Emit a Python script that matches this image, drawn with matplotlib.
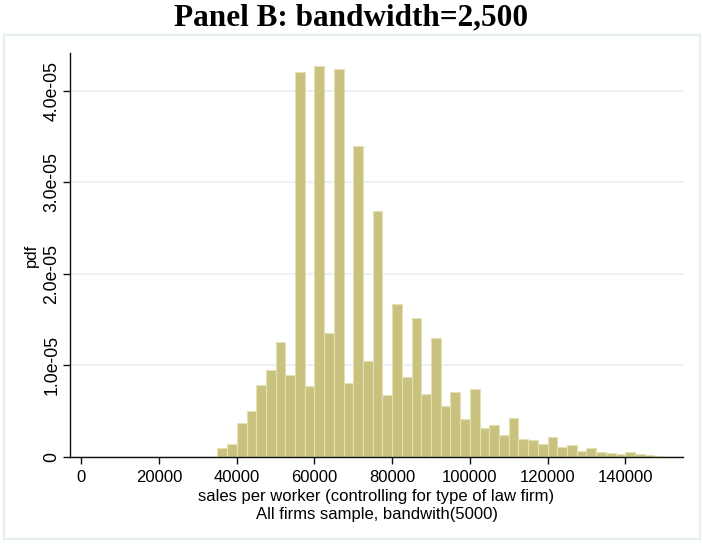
import matplotlib
matplotlib.use("Agg")
import matplotlib.pyplot as plt
from matplotlib.patches import Rectangle
import numpy as np

# Data (density in units of 1e-05), bins of width 2500 starting at 35000
bin_start = 35000
bin_width = 2500
density_e5 = [0.095, 0.145, 0.37, 0.50, 0.79, 0.955, 1.25, 0.89, 4.20, 0.78,
              4.27, 1.35, 4.24, 0.81, 3.39, 1.05, 2.68, 0.68, 1.675, 0.875,
              1.52, 0.69, 1.295, 0.56, 0.71, 0.41, 0.74, 0.315, 0.345, 0.245,
              0.425, 0.195, 0.185, 0.14, 0.22, 0.105, 0.13, 0.065, 0.10, 0.06,
              0.045, 0.037, 0.06, 0.033, 0.022, 0.015]
x_ticks = [0, 20000, 40000, 60000, 80000, 100000, 120000, 140000]
y_ticks = [0, 1e-05, 2e-05, 3e-05, 4e-05]
y_ticklabels = ["0", "1.0e-05", "2.0e-05", "3.0e-05", "4.0e-05"]
title = "Panel B: bandwidth=2,500"
xlabel = "sales per worker (controlling for type of law firm)\nAll firms sample, bandwith(5000)"
ylabel = "pdf"

lefts = [bin_start + i * bin_width for i in range(len(density_e5))]
heights = [d * 1e-05 for d in density_e5]

W, H = 702, 544
fig = plt.figure(figsize=(W / 100, H / 100), dpi=100)
fig.patch.set_facecolor("white")

# outer graph-region frame
fig.patches.append(Rectangle((4 / W, 1 - 539 / H), 696 / W, 504 / H,
                             transform=fig.transFigure, fill=False,
                             edgecolor="#e6eef0", linewidth=1.5))

ax = fig.add_axes([70 / W, 1 - 457 / H, 613 / W, 404 / H])
ax.set_facecolor("white")

ax.bar(lefts, heights, width=bin_width, align="edge", color="#c9c27f",
       edgecolor="#e4e0b4", linewidth=0.8, zorder=2)

ax.set_xlim(-2930, 154850)
ax.set_ylim(0, 4.41e-05)

fam = ["Liberation Sans", "DejaVu Sans"]
ax.set_xticks(x_ticks)
ax.set_xticklabels([str(v) for v in x_ticks], fontsize=12, family=fam)
ax.set_yticks(y_ticks)
ax.set_yticklabels(y_ticklabels, rotation=90, va="center", fontsize=12.7, family=fam)

for s in ["top", "right"]:
    ax.spines[s].set_visible(False)
for s in ["left", "bottom"]:
    ax.spines[s].set_color("#111111")
    ax.spines[s].set_linewidth(1.0)

ax.grid(axis="y", color="#eaf2f3", linewidth=1.5, zorder=0)
ax.set_axisbelow(True)

ax.tick_params(axis="x", direction="out", length=5, width=1, color="#111111", pad=4)
ax.tick_params(axis="y", direction="out", length=5, width=1, color="#111111", pad=2)

ax.set_xlabel(xlabel, fontsize=12, family=fam, linespacing=1.3, labelpad=3)
ax.set_ylabel(ylabel, fontsize=12, family=fam, labelpad=3)

fig.text(0.5, 1 - 18 / H, title, ha="center", va="center",
         fontsize=22.5, fontweight="bold", family=["Liberation Serif", "DejaVu Serif"])

fig.savefig("out.png", dpi=100)
